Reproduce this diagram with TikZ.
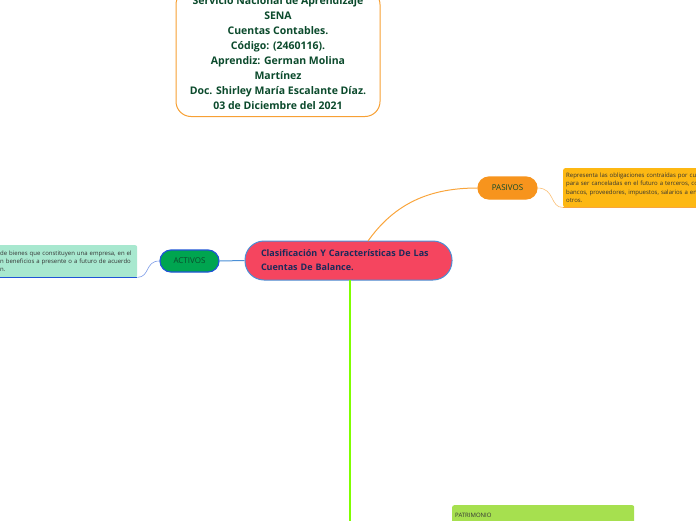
\documentclass[tikz,border=0pt]{standalone}
\usepackage{fontspec}
\setmainfont{Open Sans}
\usetikzlibrary{positioning}
\definecolor{titlegreen}{HTML}{0B4A2C}
\definecolor{titleorange}{HTML}{F7A034}
\definecolor{centralred}{HTML}{F5455F}
\definecolor{centralblue}{HTML}{4A8FD6}
\definecolor{navytext}{HTML}{1B2A5A}
\definecolor{activgreen}{HTML}{00A550}
\definecolor{activblue}{HTML}{1F55D6}
\definecolor{mintnote}{HTML}{A8E8CF}
\definecolor{pasorange}{HTML}{F7941D}
\definecolor{pasnote}{HTML}{FDB813}
\definecolor{pasline}{HTML}{F9A53C}
\definecolor{patrnote}{HTML}{A6E04F}
\definecolor{patrline}{HTML}{80FF00}
\tikzset{
    titlebox/.style={
        rectangle,
        rounded corners=15pt,
        draw=titleorange,
        line width=1pt,
        fill=white,
        text=titlegreen,
        align=center,
        minimum width=204pt,
        minimum height=127pt,
        font=\fontsize{10.5}{15}\selectfont\bfseries
    },
    central/.style={
        rectangle,
        rounded corners=19pt,
        draw=centralblue,
        line width=1pt,
        fill=centralred,
        text=navytext,
        align=left,
        text width=175pt,
        minimum width=207pt,
        minimum height=39pt,
        font=\fontsize{9}{14}\selectfont\bfseries
    },
    topic/.style={
        rectangle,
        rounded corners=11pt,
        line width=1.2pt,
        text=titlegreen,
        minimum width=59pt,
        minimum height=22pt,
        inner sep=0pt,
        font=\fontsize{8}{10}\selectfont
    },
    note/.style={
        rectangle,
        rounded corners=2pt,
        align=left,
        anchor=north west,
        inner sep=3pt,
        text=black!80,
        font=\fontsize{6}{8.3}\selectfont
    }
}

\begin{document}
\begin{tikzpicture}[x=1pt,y=-1pt]
    \useasboundingbox (0,0) rectangle (696,520);
    \clip (0,0) rectangle (696,520);

    \node (title) [titlebox] at (278,53) {Servicio Nacional de Aprendizaje\\SENA\\Cuentas Contables.\\Código: (2460116).\\Aprendiz: German Molina\\Martínez\\Doc. Shirley María Escalante Díaz.\\03 de Diciembre del 2021};

    \node (clas) [central] at (348.5,260.5) {Clasificación Y Características De Las\\Cuentas De Balance.};

    \node (activos) [topic, fill=activgreen, draw=activblue] at (189.5,261) {ACTIVOS};
    \node (actnote) [note, fill=mintnote, text width=134pt, minimum height=32pt] at (-3,245) {de bienes que constituyen una empresa, en el\\n beneficios a presente o a futuro de acuerdo\\n.};
    \draw [activblue, line width=1pt] (actnote.south west) -- (actnote.south east);

    \node (pasivos) [topic, fill=pasorange, draw=pasorange] at (507.5,188) {PASIVOS};
    \node (pasnote) [note, fill=pasnote, text width=140pt, minimum height=39pt] at (563,168) {Representa las obligaciones contraídas por cu\\para ser canceladas en el futuro a terceros, co\\bancos, proveedores, impuestos, salarios a en\\otros.};
    \draw [pasline, line width=1pt] (pasnote.south west) -- (pasnote.south east);

    \node (patrnote) [note, fill=patrnote, text width=176pt, minimum height=30pt, font=\fontsize{6}{9}\selectfont] at (452,505) {PATRIMONIO\\Es el valor resultante de la diferencia entre el activo y el};

    \coordinate (pasfrom) at (368,241);
    \coordinate (patrfrom) at (350,280);
    \coordinate (patrend) at (350,530);

    \draw [centralblue, line width=1pt] (clas.west) -- (activos.east);
    \draw [activblue!60, line width=0.6pt] (activos.west) .. controls (145,261) and (150,277) .. (actnote.south east);
    \draw [pasline, line width=1pt] (pasfrom) .. controls (395,203) and (430,188) .. (pasivos.west);
    \draw [pasline!70, line width=0.6pt] (pasivos.east) .. controls (555,188) and (550,208) .. (pasnote.south west);
    \draw [patrline, line width=1.6pt] (patrfrom) -- (patrend);

\end{tikzpicture}
\end{document}
